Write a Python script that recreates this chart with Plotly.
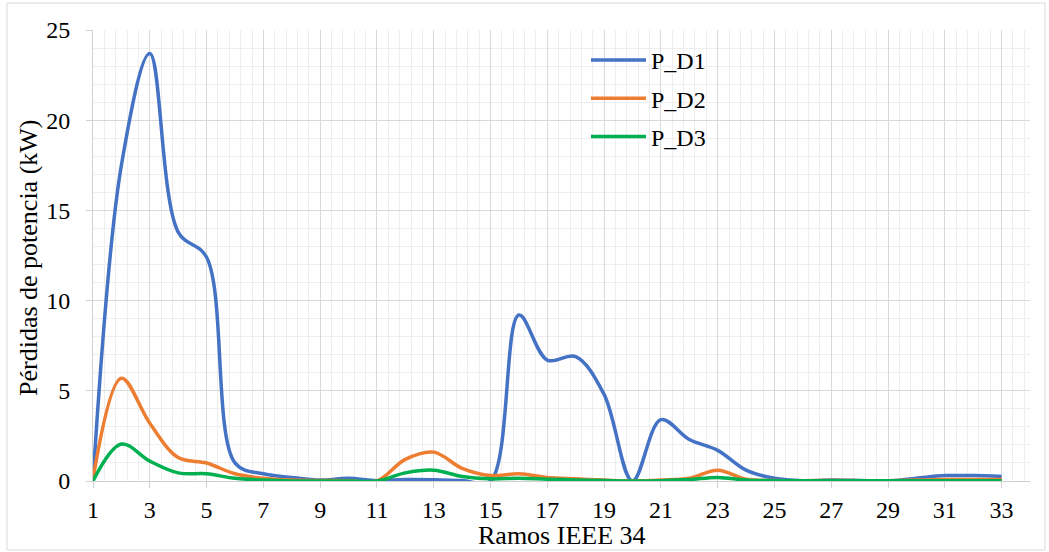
import plotly.graph_objects as go

# Branch numbers of the IEEE 34-bus feeder
ramos = list(range(1, 34))

# Power losses per branch (kW) for each case
p_d1 = [0.0, 17.5, 23.7, 13.8, 12.4, 1.0, 0.4, 0.2, 0.05, 0.15, 0.02,
        0.08, 0.07, 0.03, 0.0, 9.2, 6.7, 6.9, 4.8, 0.0, 3.4, 2.3,
        1.7, 0.6, 0.15, 0.02, 0.05, 0.03, 0.0, 0.15, 0.3, 0.3, 0.25]
p_d2 = [0.1, 5.7, 3.2, 1.3, 1.0, 0.4, 0.15, 0.05, 0.03, 0.02, 0.0,
        1.2, 1.6, 0.7, 0.3, 0.4, 0.2, 0.12, 0.05, 0.0, 0.05, 0.15,
        0.6, 0.1, 0.03, 0.02, 0.03, 0.02, 0.02, 0.05, 0.08, 0.08, 0.08]
p_d3 = [0.0, 2.05, 1.1, 0.45, 0.4, 0.15, 0.05, 0.0, 0.0, 0.0, 0.0,
        0.45, 0.6, 0.25, 0.12, 0.15, 0.1, 0.06, 0.03, 0.0, 0.02, 0.08,
        0.2, 0.05, 0.02, 0.02, 0.02, 0.02, 0.02, 0.02, 0.02, 0.02, 0.02]

series = [("P_D1", p_d1, "#4472C4"),
          ("P_D2", p_d2, "#ED7D31"),
          ("P_D3", p_d3, "#00B050")]

FONT = "Liberation Serif"

fig = go.Figure()
for name, vals, color in series:
    fig.add_trace(go.Scatter(
        x=ramos, y=vals, name=name, mode="lines", legendgroup=name,
        line=dict(color=color, width=3.5, shape="spline", smoothing=1.0),
    ))

W, H = 1049, 552
L, R, T, B = 93, 19, 30, 71
pw, ph = W - L - R, H - T - B


def px_x(p):
    return (p - L) / pw


def px_y(p):
    return (H - B - p) / ph


fig.update_layout(
    width=W, height=H,
    margin=dict(l=L, r=R, t=T, b=B),
    paper_bgcolor="white", plot_bgcolor="white",
    font=dict(family=FONT, size=24, color="#000000"),
    showlegend=True,
    legend=dict(
        x=px_x(586), y=px_y(38), xanchor="left", yanchor="top",
        bgcolor="rgba(0,0,0,0)", font=dict(size=24, family=FONT),
        traceorder="grouped", tracegroupgap=4, itemwidth=55,
    ),
    xaxis=dict(
        range=[1, 34], tickmode="linear", tick0=1, dtick=2,
        showgrid=True, gridcolor="#d9d9d9", gridwidth=1,
        minor=dict(tick0=1, dtick=0.4, showgrid=True, gridcolor="#eeeeee", gridwidth=1),
        showline=True, linecolor="#d0d0d0", linewidth=1,
        ticks="outside", ticklen=6, tickcolor="#d0d0d0",
        tickfont=dict(size=24, family=FONT), zeroline=False,
        ticklabelstandoff=1,
    ),
    yaxis=dict(
        range=[0, 25], tickmode="linear", tick0=0, dtick=5,
        showgrid=True, gridcolor="#d9d9d9", gridwidth=1,
        minor=dict(tick0=0, dtick=1, showgrid=True, gridcolor="#eeeeee", gridwidth=1),
        showline=True, linecolor="#d0d0d0", linewidth=1,
        ticks="outside", ticklen=6, tickcolor="#d0d0d0",
        tickfont=dict(size=24, family=FONT), zeroline=False,
        ticklabelstandoff=11,
    ),
    annotations=[
        dict(text="Pérdidas de potencia (kW)", xref="paper", yref="paper",
             x=px_x(28), y=px_y(258), textangle=-90, showarrow=False,
             xanchor="center", yanchor="middle", font=dict(size=26, family=FONT)),
        dict(text="Ramos IEEE 34", xref="paper", yref="paper",
             x=px_x(562), y=px_y(535), showarrow=False,
             xanchor="center", yanchor="middle", font=dict(size=26, family=FONT)),
    ],
    shapes=[
        dict(type="rect", xref="paper", yref="paper",
             x0=px_x(7), x1=px_x(1045), y0=px_y(550), y1=px_y(3),
             line=dict(color="#d9d9d9", width=1), fillcolor="rgba(0,0,0,0)",
             layer="below"),
    ],
)

fig.write_html("out.html")
